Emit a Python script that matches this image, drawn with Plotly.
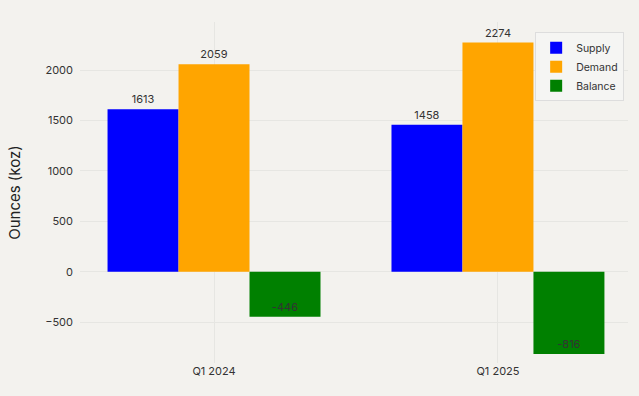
import plotly.graph_objects as go

categories = ["Q1 2024", "Q1 2025"]
supply = [1613, 1458]
demand = [2059, 2274]
balance = [-446, -816]

BG = "#f3f2ee"
FONT = "Inter, Liberation Sans, Arial, sans-serif"

fig = go.Figure()
fig.add_trace(go.Bar(name="Supply", x=categories, y=supply, marker_color="#0000ff",
                     text=[str(v) for v in supply], textposition="outside"))
fig.add_trace(go.Bar(name="Demand", x=categories, y=demand, marker_color="#ffa500",
                     text=[str(v) for v in demand], textposition="outside"))
fig.add_trace(go.Bar(name="Balance", x=categories, y=balance, marker_color="#008000",
                     text=[str(v) for v in balance], textposition="inside",
                     insidetextanchor="end"))
fig.update_traces(textfont=dict(size=11, color="#333333"), cliponaxis=False,
                  marker_line_width=0)

fig.update_layout(
    width=639, height=396,
    barmode="group", bargap=0.25, bargroupgap=0,
    paper_bgcolor=BG, plot_bgcolor=BG,
    font=dict(family=FONT, size=11, color="#333333"),
    margin=dict(l=80, r=11, t=22, b=33),
    legend=dict(x=0.993, y=0.97, xanchor="right", yanchor="top",
                bgcolor="#f5f5f3", bordercolor="#dddddd", borderwidth=1,
                font=dict(size=10.5, color="#333333"), tracegroupgap=0),
    xaxis=dict(range=[-0.472, 1.458], showgrid=True, gridcolor="#e6e6e2", gridwidth=1,
               ticks="", tickfont=dict(size=11, color="#333333"), zeroline=False,
               showline=False),
    yaxis=dict(range=[-905, 2478], tickvals=[-500, 0, 500, 1000, 1500, 2000],
               showgrid=True, gridcolor="#e6e6e2",
               zeroline=False, showline=False, ticks="", ticklabelstandoff=6,
               tickfont=dict(size=11, color="#333333"),
               title=dict(text="Ounces (koz)", font=dict(size=15, color="#222222"),
                          standoff=20)),
)

fig.write_html("out.html", config={"displayModeBar": False},
               post_script="document.body.style.margin='0';document.body.style.background='#f3f2ee';")
